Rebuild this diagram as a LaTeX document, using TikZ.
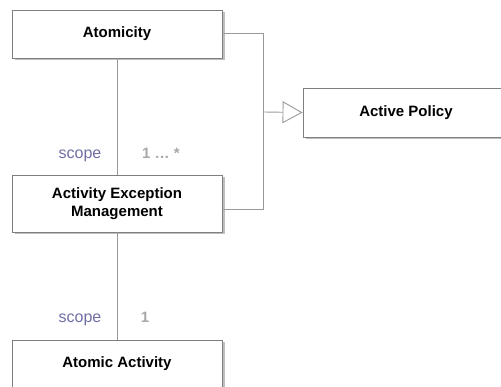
\documentclass[tikz,border=0pt]{standalone}
\usepackage{fontspec}
\setmainfont{Liberation Sans}
\usetikzlibrary{arrows.meta,shadows}
\definecolor{boxline}{HTML}{7F7F7F}
\definecolor{conline}{HTML}{999999}
\definecolor{rolecol}{HTML}{6F6FA6}
\definecolor{multcol}{HTML}{A8A8A8}
\tikzset{
  cls/.style={draw=boxline, line width=0.9pt, fill=white, minimum width=210pt, align=center,
    font=\fontsize{15}{18}\selectfont\bfseries, inner sep=0pt,
    drop shadow={shadow xshift=2.5pt, shadow yshift=-2.5pt, fill=black, opacity=0.25}},
  con/.style={draw=conline, line width=0.9pt},
  role/.style={text=rolecol, anchor=base, font=\fontsize{16}{18}\selectfont},
  mult/.style={text=multcol, anchor=base, font=\fontsize{15}{18}\selectfont\bfseries},
}
\begin{document}
\begin{tikzpicture}[x=1pt,y=-1pt]
\useasboundingbox (0,0) rectangle (501,387);
\clip (0,0) rectangle (501,387);
\node[cls, minimum height=48pt] (atom) at (117,34) {Atomicity};
\node[cls, minimum height=57pt] (aem) at (117,203.5) {Activity Exception\\Management};
\node[cls, minimum height=49pt, minimum width=206pt] (ap) at (406,112.5) {Active Policy};
\node[cls, minimum height=48pt] (aa) at (117,364) {Atomic Activity};
\coordinate (j) at (263,112);
\draw[con] (atom.south) -- (aem.north);
\draw[con] (aem.south) -- (aa.north);
\draw[con] ([yshift=1pt]atom.east) -| (j);
\draw[con] ([yshift=-5.5pt]aem.east) -| (j);
\draw[con, -{Triangle[open, length=20pt, width=22pt, fill=white]}] (j) -- (ap.west);
\node[role] (r1) at (80,158.5) {scope};
\node[mult] (m1) at (161,158.5) {1 … *};
\node[role] (r2) at (80,322.5) {scope};
\node[mult] (m2) at (145,322.5) {1};
\end{tikzpicture}
\end{document}
